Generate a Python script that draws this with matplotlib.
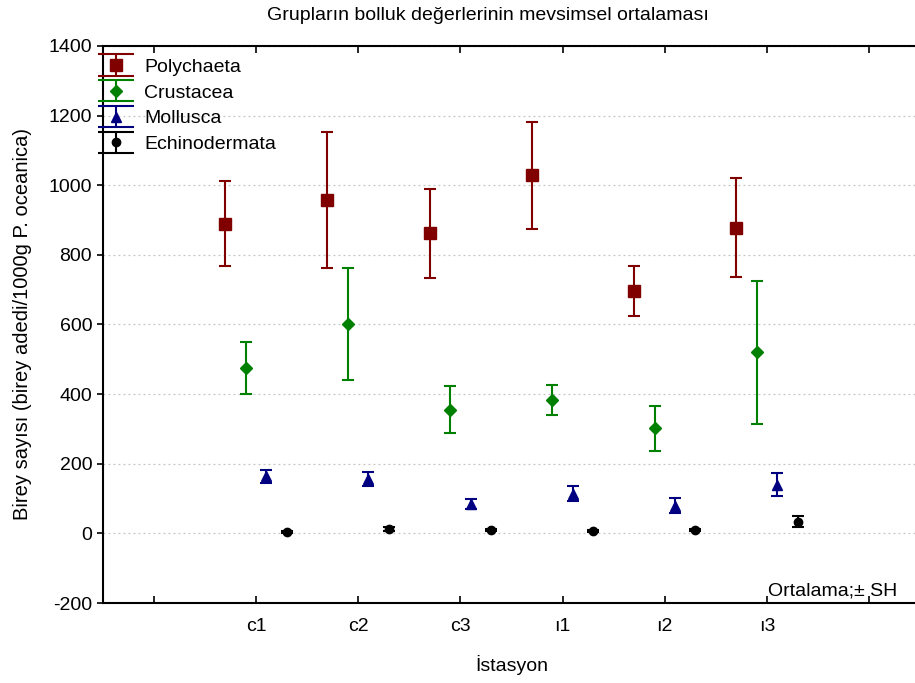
import numpy as np
import matplotlib
matplotlib.use('Agg')
import matplotlib.pyplot as plt
from matplotlib.legend_handler import HandlerErrorbar
from matplotlib.lines import Line2D

plt.rcParams['font.family'] = ['Liberation Sans', 'DejaVu Sans']
plt.rcParams['axes.unicode_minus'] = False

# istasyonlar
stations = ['c1', 'c2', 'c3', 'ı1', 'ı2', 'ı3']

# ortalama ve standart hata (SH) değerleri
poly_mean = [890, 958, 862, 1028, 695, 878]
poly_se = [122, 195, 128, 153, 72, 142]
crust_mean = [475, 601, 355, 383, 302, 520]
crust_se = [75, 161, 67, 44, 65, 206]
moll_mean = [164, 156, 84, 114, 80, 140]
moll_se = [18, 21, 15, 22, 22, 33]
echino_mean = [5, 12, 10, 6, 10, 33]
echino_se = [3, 5, 4, 3, 4, 16]

groups = ['Polychaeta', 'Crustacea', 'Mollusca', 'Echinodermata']
means = [poly_mean, crust_mean, moll_mean, echino_mean]
ses = [poly_se, crust_se, moll_se, echino_se]
colors = ['#800000', '#008000', '#000080', '#000000']
markers = ['s', 'D', '^', 'o']
msizes = [8, 6.5, 7.5, 6]
offsets = [-0.3, -0.1, 0.1, 0.3]


class WideCapHandler(HandlerErrorbar):
    # legend caps are much wider than the caps in the plot
    def create_artists(self, *args, **kwargs):
        arts = super().create_artists(*args, **kwargs)
        for a in arts:
            if isinstance(a, Line2D) and a.get_marker() == '_':
                a.set_markersize(26)
        return arts


fig = plt.figure(figsize=(9.15, 6.83), dpi=100)
ax = fig.add_axes([0.1122, 0.1171, 0.8935, 0.8156])

x = np.arange(1, len(stations) + 1)
handles = []
for g, m, s, c, mk, ms, off in zip(groups, means, ses, colors, markers, msizes, offsets):
    h = ax.errorbar(x + off, m, yerr=s, fmt=mk, color=c, ms=ms, capsize=4.5,
                    elinewidth=1.5, capthick=1.5, label=g, zorder=3)
    handles.append(h)

ax.set_xlim(-0.5, 7.5)
ax.set_ylim(-200, 1400)
ax.set_yticks(np.arange(-200, 1401, 200))
ax.set_xticks(np.arange(0, 8))
ax.set_xticklabels([''] + stations + [''])
ax.tick_params(axis='x', direction='in', top=True, length=5, width=1.2, labelsize=14, pad=11)
ax.tick_params(axis='y', direction='out', length=4, width=1.2, labelsize=14)
for sp in ax.spines.values():
    sp.set_linewidth(1.5)

ax.yaxis.grid(True, linestyle=(0, (1.5, 2.5)), color='#c4c4c4', linewidth=0.9)
ax.set_axisbelow(True)

ax.set_title('Grupların bolluk değerlerinin mevsimsel ortalaması', fontsize=14, pad=19, x=0.471)
ax.set_xlabel('İstasyon', fontsize=14, labelpad=14)
ax.set_ylabel('Birey sayısı (birey adedi/1000g P. oceanica)', fontsize=14.5, labelpad=12)

ax.text(0.972, 0.006, 'Ortalama;± SH', transform=ax.transAxes, ha='right', va='bottom', fontsize=14)

leg = fig.legend(handles=handles, loc='upper left', bbox_to_anchor=(0.098, 0.929),
                 frameon=False, fontsize=14, borderpad=0, labelspacing=0.42,
                 handletextpad=0.6, handlelength=1.7,
                 handler_map={type(handles[0]): WideCapHandler(yerr_size=0.55)})

fig.savefig('out.png', dpi=100)
